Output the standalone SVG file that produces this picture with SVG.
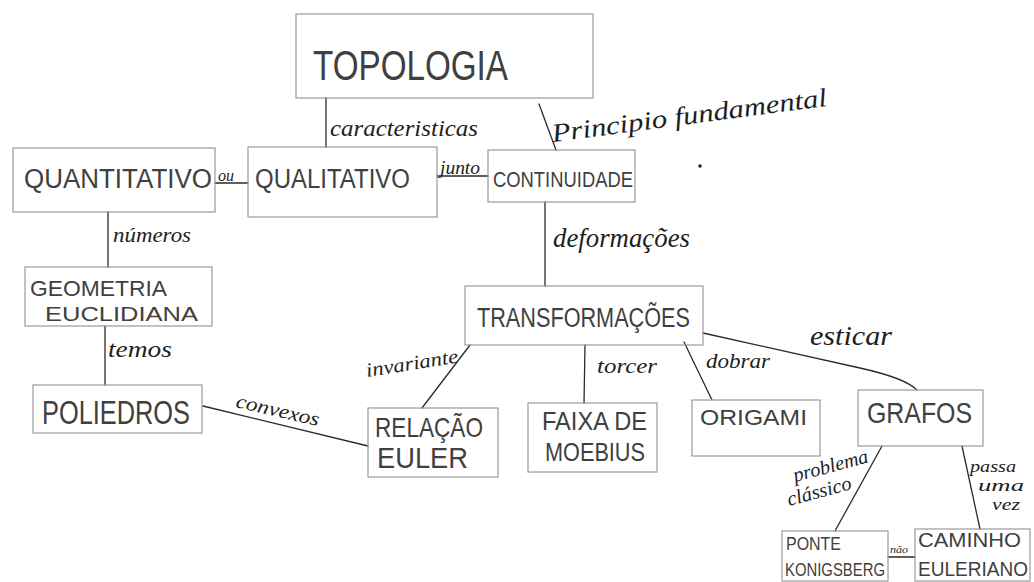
<svg xmlns="http://www.w3.org/2000/svg" width="1034" height="582" viewBox="0 0 1034 582">
<style>
.box{fill:none;stroke:#9a9a9a;stroke-width:1.2}
.nt{font-family:"Liberation Sans",Arial,sans-serif;fill:#404040}
.lb{font-family:"Liberation Serif","Times New Roman",serif;font-style:italic;fill:#1e1e1e}
.cn{fill:none;stroke:#2a2a2a;stroke-width:1.3;stroke-linecap:round}
</style>
<rect width="1034" height="582" fill="#ffffff"/>
<g id="connectors">
<path class="cn" d="M326,98 L326,147"/>
<path class="cn" d="M539,104 L556,150"/>
<path class="cn" d="M215,183 L248,183"/>
<path class="cn" d="M437,176 L488,176"/>
<path class="cn" d="M545,202 L545,286"/>
<path class="cn" d="M108,212 L108,267"/>
<path class="cn" d="M105,326 L105,385"/>
<path class="cn" d="M203,406 L368,446"/>
<path class="cn" d="M470,345 L422,408"/>
<path class="cn" d="M585,345 L584,403"/>
<path class="cn" d="M684,342 L712,400"/>
<path class="cn" d="M703,333 L860,368 Q905,378 917,390"/>
<path class="cn" d="M882,446 L835,531"/>
<path class="cn" d="M962,446 L980,529"/>
<path class="cn" d="M888,557 L915,557"/>
</g>
<g id="labels">
<text class="lb" x="330" y="136" font-size="24" textLength="148" lengthAdjust="spacingAndGlyphs">caracteristicas</text>
<text class="lb" x="553" y="142" font-size="26" textLength="277" lengthAdjust="spacingAndGlyphs" transform="rotate(-7.5 553 142)">Principio fundamental</text>
<text class="lb" x="218" y="181" font-size="16" textLength="16" lengthAdjust="spacingAndGlyphs">ou</text>
<text class="lb" x="440" y="174" font-size="18" textLength="40" lengthAdjust="spacingAndGlyphs">junto</text>
<text class="lb" x="553" y="247" font-size="28" textLength="137" lengthAdjust="spacingAndGlyphs">deformações</text>
<text class="lb" x="113" y="242" font-size="20" textLength="78" lengthAdjust="spacingAndGlyphs">números</text>
<text class="lb" x="108" y="357" font-size="24" textLength="64" lengthAdjust="spacingAndGlyphs">temos</text>
<text class="lb" x="235" y="407" font-size="20" textLength="85" lengthAdjust="spacingAndGlyphs" transform="rotate(13 235 407)">convexos</text>
<text class="lb" x="367" y="377" font-size="20" textLength="93" lengthAdjust="spacingAndGlyphs" transform="rotate(-9 367 377)">invariante</text>
<text class="lb" x="597" y="373" font-size="22" textLength="60" lengthAdjust="spacingAndGlyphs">torcer</text>
<text class="lb" x="706" y="368" font-size="22" textLength="64" lengthAdjust="spacingAndGlyphs">dobrar</text>
<text class="lb" x="810" y="345" font-size="28" textLength="82" lengthAdjust="spacingAndGlyphs">esticar</text>
<text class="lb" x="795" y="482" font-size="20" textLength="77" lengthAdjust="spacingAndGlyphs" transform="rotate(-15 795 482)">problema</text>
<text class="lb" x="789" y="506" font-size="20" textLength="66" lengthAdjust="spacingAndGlyphs" transform="rotate(-15 789 506)">clássico</text>
<text class="lb" x="970" y="472" font-size="17" textLength="46" lengthAdjust="spacingAndGlyphs">passa</text>
<text class="lb" x="978" y="491" font-size="17" textLength="46" lengthAdjust="spacingAndGlyphs">uma</text>
<text class="lb" x="992" y="510" font-size="17" textLength="28" lengthAdjust="spacingAndGlyphs">vez</text>
<text class="lb" x="890" y="553" font-size="11" textLength="18" lengthAdjust="spacingAndGlyphs">não</text>
<circle cx="700" cy="166" r="1.8" fill="#222"/>
</g>
<g id="n-topologia">
<rect class="box" x="296" y="14" width="297" height="84"/>
<text class="nt" x="313" y="80" font-size="42" textLength="195" lengthAdjust="spacingAndGlyphs">TOPOLOGIA</text>
</g>
<g id="n-quantitativo">
<rect class="box" x="13" y="148" width="202" height="64"/>
<text class="nt" x="24" y="188" font-size="27" textLength="188" lengthAdjust="spacingAndGlyphs">QUANTITATIVO</text>
</g>
<g id="n-qualitativo">
<rect class="box" x="248" y="147" width="189" height="70"/>
<text class="nt" x="255" y="188" font-size="27" textLength="155" lengthAdjust="spacingAndGlyphs">QUALITATIVO</text>
</g>
<g id="n-continuidade">
<rect class="box" x="488" y="150" width="147" height="52"/>
<text class="nt" x="493" y="187" font-size="22" textLength="140" lengthAdjust="spacingAndGlyphs">CONTINUIDADE</text>
</g>
<g id="n-geometria">
<rect class="box" x="25" y="267" width="187" height="59"/>
<text class="nt" x="30" y="296" font-size="22" textLength="137" lengthAdjust="spacingAndGlyphs">GEOMETRIA</text>
<text class="nt" x="45" y="321" font-size="20" textLength="153" lengthAdjust="spacingAndGlyphs">EUCLIDIANA</text>
</g>
<g id="n-poliedros">
<rect class="box" x="33" y="385" width="169" height="48"/>
<text class="nt" x="42" y="424" font-size="34" textLength="148" lengthAdjust="spacingAndGlyphs">POLIEDROS</text>
</g>
<g id="n-transformacoes">
<rect class="box" x="465" y="286" width="238" height="59"/>
<text class="nt" x="477" y="327" font-size="27" textLength="213" lengthAdjust="spacingAndGlyphs">TRANSFORMAÇÕES</text>
</g>
<g id="n-relacao-euler">
<rect class="box" x="368" y="408" width="130" height="69"/>
<text class="nt" x="375" y="437" font-size="28" textLength="108" lengthAdjust="spacingAndGlyphs">RELAÇÃO</text>
<text class="nt" x="377" y="468" font-size="30" textLength="91" lengthAdjust="spacingAndGlyphs">EULER</text>
</g>
<g id="n-moebius">
<rect class="box" x="528" y="403" width="129" height="69"/>
<text class="nt" x="542" y="430" font-size="26" textLength="105" lengthAdjust="spacingAndGlyphs">FAIXA DE</text>
<text class="nt" x="545" y="461" font-size="26" textLength="100" lengthAdjust="spacingAndGlyphs">MOEBIUS</text>
</g>
<g id="n-origami">
<rect class="box" x="692" y="400" width="128" height="56"/>
<text class="nt" x="700" y="425" font-size="22" textLength="107" lengthAdjust="spacingAndGlyphs">ORIGAMI</text>
</g>
<g id="n-grafos">
<rect class="box" x="858" y="390" width="125" height="56"/>
<text class="nt" x="867" y="423" font-size="30" textLength="105" lengthAdjust="spacingAndGlyphs">GRAFOS</text>
</g>
<g id="n-ponte">
<rect class="box" x="782" y="531" width="106" height="50"/>
<text class="nt" x="786" y="550" font-size="18" textLength="55" lengthAdjust="spacingAndGlyphs">PONTE</text>
<text class="nt" x="785" y="576" font-size="18" textLength="100" lengthAdjust="spacingAndGlyphs">KONIGSBERG</text>
</g>
<g id="n-caminho">
<rect class="box" x="915" y="529" width="115" height="52"/>
<text class="nt" x="918" y="547" font-size="20" textLength="103" lengthAdjust="spacingAndGlyphs">CAMINHO</text>
<text class="nt" x="918" y="576" font-size="20" textLength="110" lengthAdjust="spacingAndGlyphs">EULERIANO</text>
</g>
</svg>
